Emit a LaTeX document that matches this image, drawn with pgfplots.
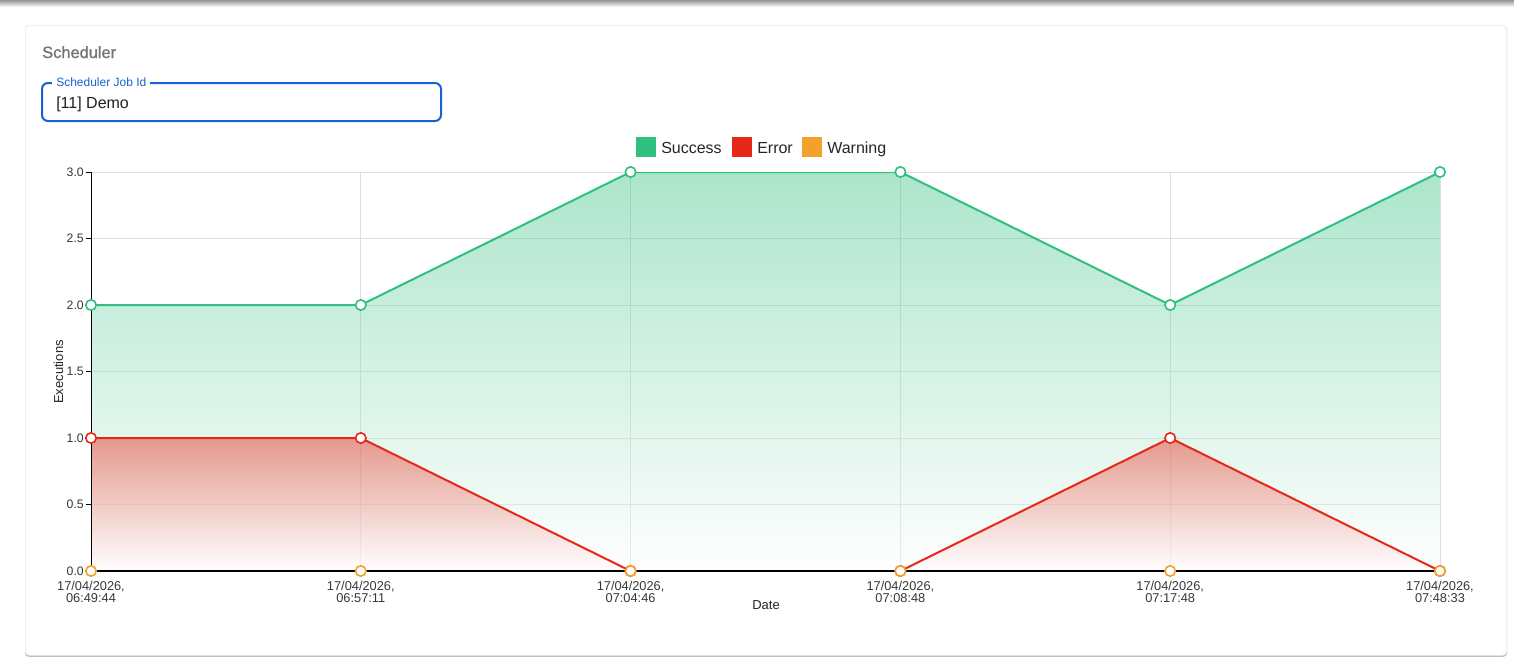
\documentclass[border=0pt]{standalone}
\usepackage{pgfplots}
\usepackage{pgfplotstable}
\pgfplotsset{compat=1.18}
\usepackage{fontspec}
\setmainfont{Liberation Sans}
\newfontfamily\mediumfont{Liberation Sans}[FakeBold=1.2]
\definecolor{succ}{RGB}{47,191,127}
\definecolor{err}{RGB}{230,40,25}
\definecolor{warn}{RGB}{245,160,45}
\definecolor{fieldblue}{RGB}{24,98,212}
\definecolor{ticktext}{RGB}{55,55,55}
\pgfplotstableread{
x succ err warn
0 2 1 0
1 2 1 0
2 3 0 0
3 3 0 0
4 2 1 0
5 3 0 0
}\datatable
\begin{document}
\begin{tikzpicture}
\begin{scope}[x=0.75pt,y=-0.75pt]
\fill[white] (0,0) rectangle (1514,657);
\shade[top color=black!42, bottom color=white] (0,0) rectangle (1514,7);
% card
\fill[black!25, rounded corners=3pt] (25,25.5) rectangle (1507,657);
\fill[black!6, rounded corners=3pt] (25,25) rectangle (1507,655.5);
\fill[white, rounded corners=3pt] (26,26) rectangle (1506,655);
% title
\node[anchor=base west, inner sep=0pt, text=black!54, font=\mediumfont\fontsize{12.3}{14}\selectfont] at (42,58) {Scheduler};
% text field
\draw[fieldblue, line width=1.5pt, rounded corners=4.5pt] (42,83) rectangle (441,121);
\node[fill=white, inner xsep=3pt, inner ysep=1pt, anchor=west, text=fieldblue, font=\fontsize{9}{10}\selectfont] at (52,82) {Scheduler Job Id};
\node[anchor=base west, inner sep=0pt, text=black!87, font=\fontsize{12}{14}\selectfont] at (56,108) {[11] Demo};
% legend
\fill[succ] (636,137) rectangle (656,157);
\node[anchor=base west, inner sep=0pt, text=black!85, font=\fontsize{12}{14}\selectfont] at (661,153) {Success};
\fill[err] (732,137) rectangle (752,157);
\node[anchor=base west, inner sep=0pt, text=black!85, font=\fontsize{12}{14}\selectfont] at (757,153) {Error};
\fill[warn] (802,137) rectangle (822,157);
\node[anchor=base west, inner sep=0pt, text=black!85, font=\fontsize{12}{14}\selectfont] at (827,153) {Warning};
% axis titles
\node[rotate=90, text=black!85, font=\fontsize{9.75}{11}\selectfont] at (58.5,372) {Executions};
\node[text=black!85, font=\fontsize{9.75}{11}\selectfont] at (766,605) {Date};
\end{scope}
\begin{axis}[
  at={(68.25pt,-428.25pt)}, anchor=south west,
  scale only axis, width=1011.75pt, height=299.25pt,
  xmin=0, xmax=5, ymin=0, ymax=3,
  xtick={0,1,2,3,4,5},
  xticklabels={{17/04/2026,\\06:49:44},{17/04/2026,\\06:57:11},{17/04/2026,\\07:04:46},{17/04/2026,\\07:08:48},{17/04/2026,\\07:17:48},{17/04/2026,\\07:48:33}},
  ytick={0,0.5,1,1.5,2,2.5,3},
  grid=major,
  grid style={black!13, line width=0.6pt},
  axis x line*=bottom, axis y line*=left,
  axis line style={black, line width=0.75pt, -},
  x tick style={draw=none},
  y tick style={draw=black, line width=0.75pt},
  tick align=outside,
  major tick length=3.75pt,
  x tick label style={align=center, font=\fontsize{9.6}{9}\selectfont, text=ticktext, yshift=-0.3pt},
  y tick label style={font=\fontsize{9.2}{9}\selectfont, text=ticktext, inner xsep=1.5pt, /pgf/number format/.cd, fixed, fixed zerofill, precision=1, assume math mode=true},
  clip=true,
]
% fills
\addplot[draw=none, top color=succ, bottom color=white, fill opacity=0.4] table[x=x,y=succ] {\datatable} \closedcycle;
\addplot[draw=none, top color=err, bottom color=white, fill opacity=0.45] table[x=x,y=err] {\datatable} \closedcycle;
% lines
\addplot[succ, line width=1.5pt, no markers] table[x=x,y=succ] {\datatable};
\addplot[err, line width=1.5pt, no markers] table[x=x,y=err] {\datatable};
\addplot[warn, line width=1.5pt, no markers] table[x=x,y=warn] {\datatable};
% axis lines over the clipped series lines
\draw[black, line width=1.0pt] (rel axis cs:0,1) -- (rel axis cs:0,0);
\draw[black, line width=1.5pt] (rel axis cs:0,0) -- (rel axis cs:1,0);
% markers
\addplot[only marks, mark=*, mark size=3.9pt, mark options={fill=white, draw=succ, line width=1.2pt}] table[x=x,y=succ] {\datatable};
\addplot[only marks, mark=*, mark size=3.9pt, mark options={fill=white, draw=err, line width=1.2pt}] table[x=x,y=err] {\datatable};
\addplot[only marks, mark=*, mark size=3.9pt, mark options={fill=white, draw=warn, line width=1.2pt}] table[x=x,y=warn] {\datatable};
\end{axis}
\end{tikzpicture}
\end{document}
